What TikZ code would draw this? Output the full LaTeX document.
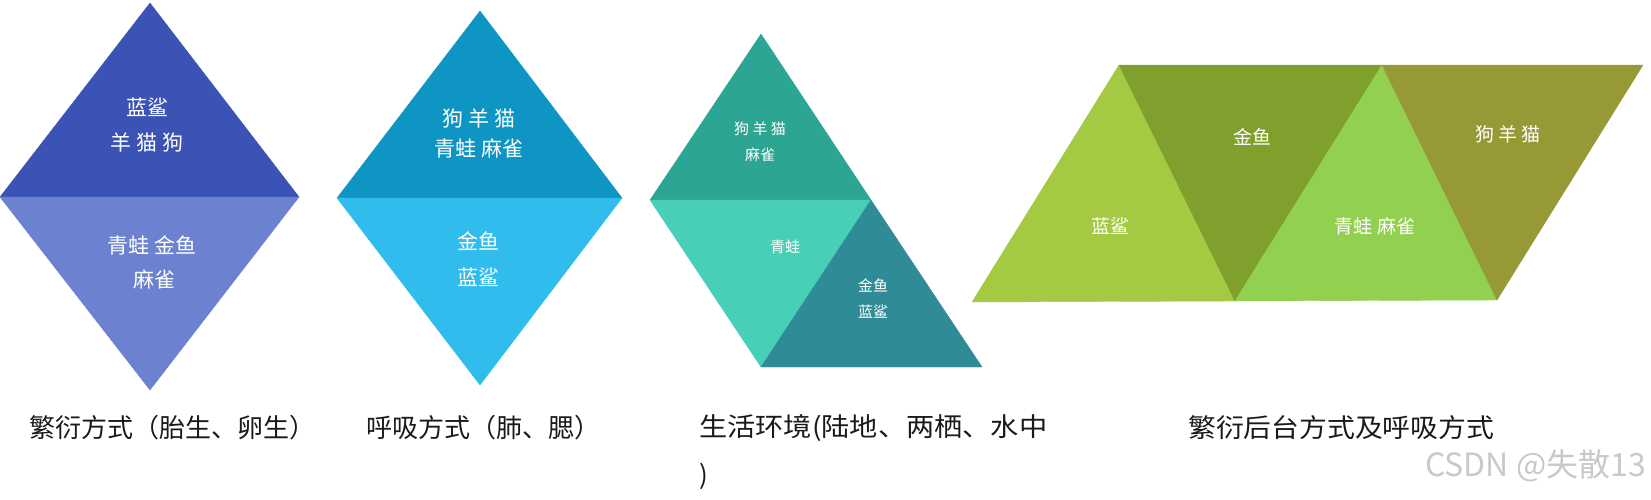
\documentclass[tikz,border=0pt]{standalone}
\usepackage{fontspec}
\setmainfont{Noto Sans CJK SC}
\definecolor{dAtop}{HTML}{3A53B4}
\definecolor{dAbot}{HTML}{6C82D0}
\definecolor{dBtop}{HTML}{0E95C4}
\definecolor{dBbot}{HTML}{30BDEE}
\definecolor{gCa}{HTML}{2CA692}
\definecolor{gCb}{HTML}{47CFB8}
\definecolor{gCc}{HTML}{2F8C96}
\definecolor{gDa}{HTML}{A4CA44}
\definecolor{gDb}{HTML}{7FA02C}
\definecolor{gDc}{HTML}{92D050}
\definecolor{gDd}{HTML}{979937}
\definecolor{capcol}{HTML}{1A1A1A}
\definecolor{wmcol}{HTML}{C9C9C9}
\tikzset{
  piece/.style={fill=#1, draw=#1, line width=0.4pt, line join=round},
  labbig/.style={text=white, align=center, inner sep=0pt, font=\fontsize{21}{#1}\selectfont},
  labmid/.style={text=white, align=center, inner sep=0pt, font=\fontsize{19}{#1}\selectfont},
  labsmall/.style={text=white, align=center, inner sep=0pt, font=\fontsize{15}{#1}\selectfont},
  caption/.style={text=capcol, inner sep=0pt, font=\fontsize{26}{48}\selectfont},
}
\begin{document}
\begin{tikzpicture}[x=1pt,y=-1pt]
\useasboundingbox (0,0) rectangle (1651,499);
% diamond 1
\path[piece=dAtop] (150,3) -- (299,197) -- (0,197) -- cycle;
\path[piece=dAbot] (0,197) -- (299,197) -- (150,390) -- cycle;
\node[labbig=35] (a1) at (147,125) {蓝鲨\\羊 猫 狗};
\node[labbig=34] (a2) at (152,262) {青蛙 金鱼\\\ 麻雀};
% diamond 2
\path[piece=dBtop] (480,11) -- (622,198) -- (337,198) -- cycle;
\path[piece=dBbot] (337,198) -- (622,198) -- (480,385) -- cycle;
\node[labbig=30] (b1) at (479,133) {狗 羊 猫\\青蛙 麻雀};
\node[labbig=36] (b2) at (478,259) {金鱼\\蓝鲨};
% group 3
\path[piece=gCa] (761,34) -- (871,200) -- (650,200) -- cycle;
\path[piece=gCb] (650,200) -- (871,200) -- (761,367) -- cycle;
\path[piece=gCc] (871,200) -- (982,367) -- (761,367) -- cycle;
\node[labsmall=26] (c1) at (760,142) {狗 羊 猫\\麻雀};
\node[labsmall=26] (c2) at (785,247) {青蛙};
\node[labsmall=26] (c3) at (873,299) {金鱼\\蓝鲨};
% group 4
\path[piece=gDa] (1119,65) -- (1235,301) -- (972,302) -- cycle;
\path[piece=gDb] (1119,65) -- (1382,65) -- (1235,301) -- cycle;
\path[piece=gDc] (1382,65) -- (1497,300) -- (1235,301) -- cycle;
\path[piece=gDd] (1382,65) -- (1643,65) -- (1497,300) -- cycle;
\node[labmid=20] (d1) at (1252,137) {金鱼};
\node[labmid=20] (d2) at (1508,134) {狗 羊 猫};
\node[labmid=20] (d3) at (1110,226) {蓝鲨};
\node[labmid=20] (d4) at (1375,226) {青蛙 麻雀};
% captions
\node[caption, anchor=west] (cap1) at (29,428) {繁衍方式（胎生、卵生）};
\node[caption, anchor=west] (cap2) at (366,428) {呼吸方式（肺、腮）};
\node[caption, anchor=west] (cap3) at (699,428) {\scalebox{1.085}[1]{生活环境(陆地、两栖、水中}};
\node[caption, anchor=west] (cap3b) at (699,476) {)};
\node[caption, anchor=west] (cap4) at (1188,428) {\scalebox{1.07}[1]{繁衍后台方式及呼吸方式}};
\node[text=wmcol, inner sep=0pt, anchor=east, font=\fontsize{32}{36}\selectfont] (wm) at (1646,466) {CSDN @失散13};
\end{tikzpicture}
\end{document}
